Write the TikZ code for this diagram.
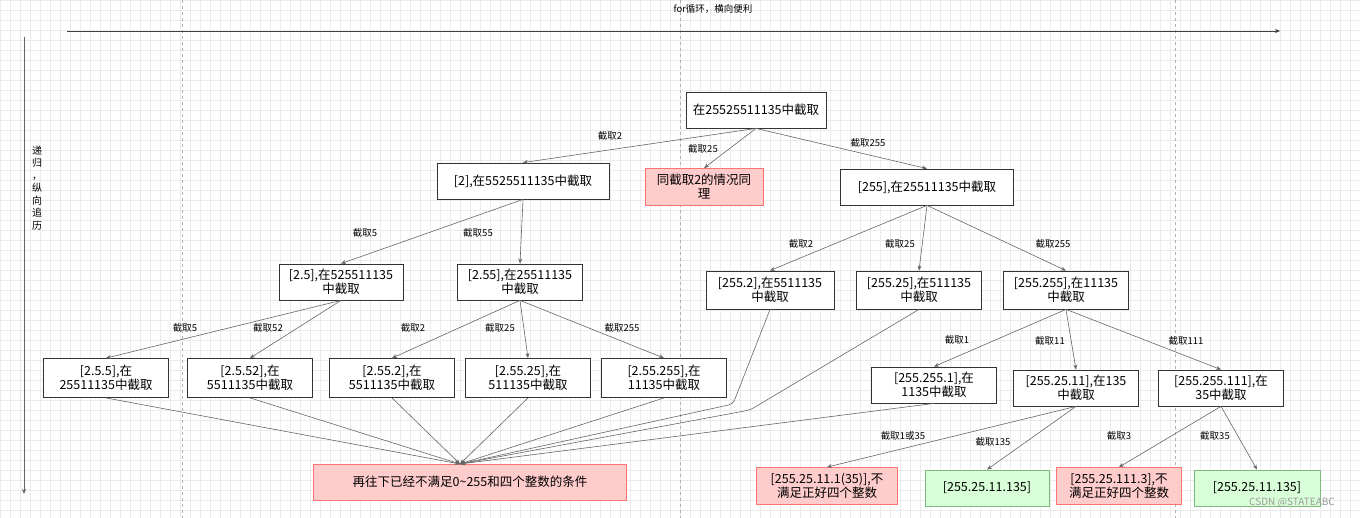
\documentclass[tikz,border=0pt]{standalone}
\usepackage{fontspec}
\setmainfont{Noto Sans CJK SC}
\usetikzlibrary{arrows.meta}
\begin{document}
\begin{tikzpicture}[x=1pt,y=-1pt,
 bx/.style={draw=black!80,fill=white,align=center,font=\fontsize{12.5}{15}\selectfont,inner sep=1pt,minimum height=36pt,line width=0.8pt},
 pk/.style={bx,fill=red!20,draw=red!55},
 gr/.style={bx,fill=green!15,draw=green!45!black!50},
 lb/.style={font=\fontsize{9.5}{11}\selectfont,inner sep=1pt},
 ar/.style={draw=black!60,line width=0.6pt,-{Stealth[length=5pt,width=4pt]}}]
\useasboundingbox (0,0) rectangle (1360,518);
\fill[white] (0,0) rectangle (1360,518);
\draw[black!8,step=10pt] (0,0) grid (1360,518);
\foreach \x in {182,680,1175} \draw[black!30,dashed] (\x,0) -- (\x,518);
% axes
\coordinate (h1) at (67,31); \coordinate (h2) at (1280,31);
\draw[ar,draw=black!75] (h1) -- (h2);
\node[lb] (ht) at (713,9) {for循环，横向便利};
\coordinate (v1) at (24,37); \coordinate (v2) at (24,494);
\draw[ar,draw=black!60] (v1) -- (v2);
\node[lb,align=center,text width=10pt,font=\fontsize{10}{12.5}\selectfont] (vt) at (37,188) {递\\归\\，\\纵\\向\\追\\历};
% nodes
\node[bx,minimum width=140pt] (r) at (756,110) {在25525511135中截取};
\node[bx,minimum width=172pt] (a) at (523,181) {[2],在5525511135中截取};
\node[pk,minimum width=118pt,minimum height=37pt,font=\fontsize{12.5}{14}\selectfont] (s) at (704,187) {同截取2的情况同\\理};
\node[bx,minimum width=173pt] (b) at (927,187) {[255],在25511135中截取};
\node[bx,minimum width=124pt,font=\fontsize{12.5}{14}\selectfont] (a1) at (341,282) {[2.5],在525511135\\中截取};
\node[bx,minimum width=125pt,font=\fontsize{12.5}{14}\selectfont] (a2) at (520,282) {[2.55],在25511135\\中截取};
\node[bx,minimum width=128pt,minimum height=38pt,font=\fontsize{12.5}{14}\selectfont] (b1) at (770,290) {[255.2],在5511135\\中截取};
\node[bx,minimum width=125pt,minimum height=38pt,font=\fontsize{12.5}{14}\selectfont] (b2) at (919,290) {[255.25],在511135\\中截取};
\node[bx,minimum width=125pt,minimum height=38pt,font=\fontsize{12.5}{14}\selectfont] (b3) at (1066,290) {[255.255],在11135\\中截取};
\tikzset{r3/.style={bx,minimum width=125pt,minimum height=39pt,font=\fontsize{12.5}{14}\selectfont}}
\node[r3] (c1) at (106,378) {[2.5.5],在\\25511135中截取};
\node[r3] (c2) at (250,378) {[2.5.52],在\\5511135中截取};
\node[r3] (c3) at (392,378) {[2.55.2],在\\5511135中截取};
\node[r3] (c4) at (528,378) {[2.55.25],在\\511135中截取};
\node[r3] (c5) at (664,378) {[2.55.255],在\\11135中截取};
\node[r3,minimum height=36pt] (d1) at (934,385) {[255.255.1],在\\1135中截取};
\node[r3,minimum height=36pt] (d2) at (1076,388) {[255.25.11],在135\\中截取};
\node[r3,minimum height=36pt] (d3) at (1221,388) {[255.255.111],在\\35中截取};
\node[pk,minimum width=313pt] (z) at (470,482) {再往下已经不满足0\textasciitilde255和四个整数的条件};
\node[pk,minimum width=141pt,minimum height=37pt,font=\fontsize{12.5}{14}\selectfont] (e1) at (827,486) {[255.25.11.1(35)],不\\满足正好四个整数};
\node[gr,minimum width=124pt] (e2) at (987,488) {[255.25.11.135]};
\node[pk,minimum width=125pt,minimum height=37pt,font=\fontsize{12.5}{14}\selectfont] (e3) at (1119,486) {[255.25.111.3],不\\满足正好四个整数};
\node[gr,minimum width=126pt] (e4) at (1257,488) {[255.25.11.135]};
% edges
\draw[ar] (r.south) -- (a.north);
\draw[ar] (r.south) -- (s.north);
\draw[ar] (r.south) -- (b.north);
\draw[ar] (a.south) -- (a1.north);
\draw[ar] (a.south) -- (a2.north);
\draw[ar] (b.south) -- (b1.north);
\draw[ar] (b.south) -- (b2.north);
\draw[ar] (b.south) -- (b3.north);
\draw[ar] (a1.south) -- (c1.north);
\draw[ar] (a1.south) -- (c2.north);
\draw[ar] (a2.south) -- (c3.north);
\draw[ar] (a2.south) -- (c4.north);
\draw[ar] (a2.south) -- (c5.north);
\draw[ar] (b3.south) -- (d1.north);
\draw[ar] (b3.south) -- (d2.north);
\draw[ar] (b3.south) -- (d3.north);
\draw[ar] (d2.south) -- (e1.north);
\draw[ar] (d2.south) -- (e2.north);
\draw[ar] (d3.south) -- (e3.north);
\draw[ar] (d3.south) -- (e4.north);
\coordinate (zt) at (460,464);
\foreach \n in {c1,c2,c3,c4,c5,d1} \draw[ar] (\n.south) -- (zt);
\draw[ar,rounded corners=4pt] (b1.south) -- (733,404) -- (zt);
\draw[ar,rounded corners=4pt] (b2.south) -- (750,410) -- (zt);
% labels
\node[lb] (l1) at (610,136) {截取2};
\node[lb] (l2) at (703,149) {截取25};
\node[lb] (l3) at (868,143) {截取255};
\node[lb] (l4) at (365,233) {截取5};
\node[lb] (l5) at (478,233) {截取55};
\node[lb] (l6) at (801,244) {截取2};
\node[lb] (l7) at (900,244) {截取25};
\node[lb] (l8) at (1053,244) {截取255};
\node[lb] (l9) at (185,328) {截取5};
\node[lb] (l10) at (268,328) {截取52};
\node[lb] (l11) at (413,328) {截取2};
\node[lb] (l12) at (500,328) {截取25};
\node[lb] (l13) at (622,328) {截取255};
\node[lb] (l14) at (957,340) {截取1};
\node[lb] (l15) at (1050,341) {截取11};
\node[lb] (l16) at (1186,341) {截取111};
\node[lb] (l17) at (903,436) {截取1或35};
\node[lb] (l18) at (993,442) {截取135};
\node[lb] (l19) at (1119,436) {截取3};
\node[lb] (l20) at (1215,436) {截取35};
\node[lb,text=black!40,font=\fontsize{10}{12}\selectfont] (wm) at (1292,503) {CSDN @STATEABC};
\end{tikzpicture}
\end{document}
